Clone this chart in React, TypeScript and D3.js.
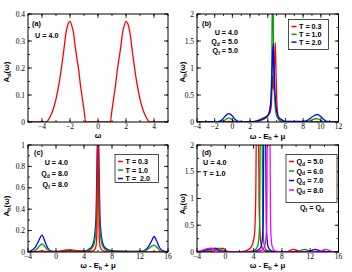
import * as d3 from "d3";

type Pt = [number, number];

// (a) A_d(ω), U = 4.0
const adCurve: Pt[] = [
  [-5, 0], [-3.75, 0], [-3.6, 0.004], [-3.5, 0.012], [-3.25, 0.04], [-3.0, 0.085],
  [-2.75, 0.152], [-2.5, 0.243], [-2.25, 0.34], [-2.125, 0.365], [-2.0, 0.373],
  [-1.875, 0.357], [-1.75, 0.33], [-1.625, 0.277], [-1.5, 0.235], [-1.375, 0.19],
  [-1.25, 0.135], [-1.125, 0.09], [-1.0, 0.045], [-0.875, 0], [0.875, 0],
  [1.0, 0.045], [1.125, 0.09], [1.25, 0.135], [1.375, 0.19], [1.5, 0.235],
  [1.625, 0.277], [1.75, 0.33], [1.875, 0.357], [2.0, 0.373], [2.125, 0.365],
  [2.25, 0.34], [2.5, 0.243], [2.75, 0.152], [3.0, 0.085], [3.25, 0.04],
  [3.5, 0.012], [3.6, 0.004], [3.75, 0], [5, 0],
];

// (b) A_h, U = 4, Qd = Qf = 5
const bT03: Pt[] = [
  [-4, 0], [-1, 0], [-0.4, 0.01], [0.2, 0], [2.3, 0], [2.8, 0.02], [3.3, 0.06],
  [3.8, 0.1], [4.2, 0.15], [4.4, 0.3], [4.55, 0.85], [4.65, 0.6], [4.75, 1.0],
  [4.85, 1.47], [4.95, 0.8], [5.05, 0.3], [5.2, 0.08], [5.5, 0.01], [6, 0],
  [9, 0], [9.6, 0.008], [10.2, 0], [12, 0],
];
const bT10: Pt[] = [
  [-4, 0], [-1.5, 0], [-1, 0.02], [-0.7, 0.05], [-0.4, 0.078], [-0.1, 0.05],
  [0.3, 0.01], [1, 0], [2.5, 0.005], [3, 0.02], [3.5, 0.05], [4.0, 0.1],
  [4.3, 0.3], [4.45, 1.0], [4.52, 2.3], [4.6, 2.3], [4.68, 0.9], [4.8, 0.4],
  [4.95, 0.15], [5.2, 0.05], [5.6, 0.01], [6, 0], [8.5, 0.01], [9, 0.04],
  [9.4, 0.06], [9.7, 0.058], [10.1, 0.02], [10.5, 0], [12, 0],
];
const bT20: Pt[] = [
  [-4, 0], [-2, 0], [-1.5, 0.01], [-1.1, 0.05], [-0.8, 0.11], [-0.4, 0.155],
  [0, 0.11], [0.3, 0.05], [0.7, 0.01], [1.5, 0], [2.5, 0.01], [3, 0.03],
  [3.5, 0.06], [3.9, 0.1], [4.2, 0.2], [4.4, 0.5], [4.5, 1.0], [4.6, 1.45],
  [4.7, 1.0], [4.8, 0.6], [4.9, 0.35], [5.0, 0.2], [5.2, 0.1], [5.6, 0.04],
  [6, 0.01], [8, 0.01], [8.5, 0.03], [8.9, 0.08], [9.3, 0.12], [9.6, 0.14],
  [10, 0.1], [10.3, 0.05], [10.7, 0.01], [11.5, 0], [12, 0],
];

// (c) A_h, U = 4, Qd = Qf = 8
const cT03: Pt[] = [
  [-4, 0], [-2.5, 0.005], [-2, 0.01], [-1.5, 0.005], [0, 0], [0.8, 0.01],
  [1.5, 0.02], [2.2, 0.02], [3, 0.01], [4, 0.003], [5.3, 0.01], [5.7, 0.05],
  [5.85, 0.2], [5.95, 1.1], [6.05, 1.1], [6.15, 0.2], [6.3, 0.05], [6.7, 0.01],
  [7.5, 0], [16, 0],
];
const cT10: Pt[] = [
  [-4, 0], [-3.2, 0.005], [-2.7, 0.03], [-2.3, 0.06], [-2, 0.075], [-1.6, 0.05],
  [-1.2, 0.02], [-0.7, 0.003], [0, 0], [1, 0.005], [2, 0.01], [3, 0.005],
  [4.5, 0.01], [5.3, 0.05], [5.7, 0.2], [5.9, 0.7], [5.97, 1.1], [6.03, 1.1],
  [6.1, 0.7], [6.3, 0.2], [6.7, 0.05], [7.5, 0.01], [12.5, 0.005], [13.2, 0.03],
  [13.7, 0.055], [14, 0.065], [14.4, 0.045], [14.8, 0.015], [15.3, 0], [16, 0],
];
const cT20: Pt[] = [
  [-4, 0], [-3.6, 0.01], [-3, 0.04], [-2.5, 0.1], [-2, 0.158], [-1.6, 0.1],
  [-1.2, 0.04], [-0.7, 0.01], [0, 0.005], [1, 0.01], [2, 0.015], [3, 0.01],
  [4, 0.01], [5, 0.04], [5.4, 0.1], [5.7, 0.3], [5.85, 0.8], [5.95, 1.1],
  [6.05, 1.1], [6.15, 0.8], [6.3, 0.3], [6.6, 0.1], [7, 0.04], [8, 0.01],
  [12, 0.005], [12.8, 0.02], [13.3, 0.06], [13.7, 0.11], [14, 0.145],
  [14.4, 0.1], [14.8, 0.04], [15.3, 0.01], [16, 0],
];

// (d) A_h, U = 4, T = 1, Qf = Qd
const dQ5: Pt[] = [
  [-4, 0], [-2, 0.01], [-1.2, 0.04], [-0.7, 0.065], [-0.3, 0.065], [0, 0.03],
  [0.5, 0.005], [1.5, 0], [2.5, 0.01], [3.2, 0.04], [3.7, 0.1], [4.1, 0.3],
  [4.3, 1.0], [4.4, 2.3], [4.7, 2.3], [4.78, 0.85], [4.9, 0.4], [5.05, 0.15],
  [5.4, 0.04], [6, 0.01], [8.5, 0], [9.2, 0.03], [9.7, 0.05], [10.2, 0.03],
  [10.8, 0], [16, 0],
];
const dQ6: Pt[] = [
  [-4, 0], [-3, 0.01], [-2.2, 0.04], [-1.6, 0.065], [-0.9, 0.065], [-0.4, 0.03],
  [0.3, 0.005], [2, 0], [3.5, 0.01], [4.2, 0.04], [4.6, 0.12], [4.85, 0.5],
  [4.95, 2.3], [5.2, 2.3], [5.3, 0.5], [5.55, 0.1], [6, 0.02], [7, 0],
  [10.3, 0.01], [10.8, 0.035], [11.2, 0.048], [11.7, 0.03], [12.3, 0], [16, 0],
];
const dQ7: Pt[] = [
  [-4, 0], [-3.5, 0.01], [-2.7, 0.04], [-2.1, 0.06], [-1.4, 0.065], [-0.9, 0.03],
  [-0.2, 0.005], [2.5, 0], [4, 0.01], [4.7, 0.04], [5.1, 0.12], [5.35, 0.5],
  [5.45, 2.3], [5.7, 2.3], [5.8, 0.5], [6.05, 0.1], [6.5, 0.02], [7.5, 0],
  [11.8, 0.01], [12.3, 0.035], [12.7, 0.048], [13.2, 0.03], [13.8, 0], [16, 0],
];
const dQ8: Pt[] = [
  [-4, 0], [-3.7, 0.015], [-3.1, 0.04], [-2.5, 0.065], [-1.9, 0.07], [-1.3, 0.035],
  [-0.7, 0.005], [3, 0], [4.5, 0.01], [5.2, 0.04], [5.6, 0.12], [5.85, 0.5],
  [5.95, 2.3], [6.3, 2.3], [6.4, 0.5], [6.6, 0.12], [7, 0.02], [8, 0],
  [13.3, 0.01], [13.8, 0.035], [14.2, 0.048], [14.7, 0.03], [15.3, 0], [16, 0],
];

// tick values per panel
const aXTicks = [-4, -2, 0, 2, 4];
const aYTicks = [0, 0.1, 0.2, 0.3, 0.4];
const bXTicks = [-4, -2, 0, 2, 4, 6, 8, 10, 12];
const bYTicks = [0, 0.5, 1, 1.5, 2];
const cXTicks = [-4, 0, 4, 8, 12, 16];
const cYTicks = [0, 0.2, 0.4, 0.6, 0.8, 1];
const dXTicks = [-4, 0, 4, 8, 12, 16];
const dYTicks = [0, 0.5, 1, 1.5, 2];

const bLegend = ["T = 0.3", "T = 1.0", "T = 2.0"];
const cLegend = ["T = 0.3", "T = 1.0", "T =  2.0"];
const dLegend = ["5.0", "6.0", "7.0", "8.0"];

const RED = "#ff0000";
const GREEN = "#00a000";
const BLUE = "#0000ff";
const MAGENTA = "#ff00ff";

const serif = "'Liberation Serif', 'DejaVu Serif', serif";
const sans = "'Liberation Sans', Arial, sans-serif";

type Box = { left: number; right: number; top: number; bottom: number };

type PanelProps = {
  id: string;
  box: Box;
  xDomain: [number, number];
  yDomain: [number, number];
  xTicks: number[];
  xMinorStep: number;
  yTicks: number[];
  yMinorStep: number;
  series: { data: Pt[]; color: string }[];
};

function Panel({ id, box, xDomain, yDomain, xTicks, xMinorStep, yTicks, yMinorStep, series }: PanelProps) {
  const x = d3.scaleLinear().domain(xDomain).range([box.left, box.right]);
  const y = d3.scaleLinear().domain(yDomain).range([box.bottom, box.top]);
  const line = d3
    .line<Pt>()
    .x((d) => x(d[0]))
    .y((d) => y(d[1]))
    .curve(d3.curveMonotoneX);
  const eps = 1e-9;
  const xMin = d3.range(xDomain[0], xDomain[1] + eps, xMinorStep);
  const yMin = d3.range(yDomain[0], yDomain[1] + eps, yMinorStep);
  const fmt = (v: number) => d3.format("~g")(+v.toFixed(6));
  const maj = 4;
  const mnr = 2;
  return (
    <g>
      <defs>
        <clipPath id={id}>
          <rect x={box.left} y={box.top} width={box.right - box.left} height={box.bottom - box.top} />
        </clipPath>
      </defs>
      <g clipPath={`url(#${id})`} fill="none" strokeWidth={1.3}>
        {series.map((s, i) => (
          <path key={i} d={line(s.data) ?? ""} stroke={s.color} />
        ))}
      </g>
      <g stroke="#000" strokeWidth={0.8}>
        {xMin.map((v, i) => (
          <g key={"xm" + i}>
            <line x1={x(v)} x2={x(v)} y1={box.bottom} y2={box.bottom - mnr} />
            <line x1={x(v)} x2={x(v)} y1={box.top} y2={box.top + mnr} />
          </g>
        ))}
        {xTicks.map((v, i) => (
          <g key={"xM" + i}>
            <line x1={x(v)} x2={x(v)} y1={box.bottom} y2={box.bottom - maj} />
            <line x1={x(v)} x2={x(v)} y1={box.top} y2={box.top + maj} />
          </g>
        ))}
        {yMin.map((v, i) => (
          <g key={"ym" + i}>
            <line x1={box.left} x2={box.left + mnr} y1={y(v)} y2={y(v)} />
            <line x1={box.right} x2={box.right - mnr} y1={y(v)} y2={y(v)} />
          </g>
        ))}
        {yTicks.map((v, i) => (
          <g key={"yM" + i}>
            <line x1={box.left} x2={box.left + maj} y1={y(v)} y2={y(v)} />
            <line x1={box.right} x2={box.right - maj} y1={y(v)} y2={y(v)} />
          </g>
        ))}
        <rect
          x={box.left}
          y={box.top}
          width={box.right - box.left}
          height={box.bottom - box.top}
          fill="none"
          strokeWidth={1}
        />
      </g>
      <g fontFamily={serif} fontSize={7.5} fill="#000">
        {xTicks.map((v, i) => (
          <text key={"xl" + i} x={x(v)} y={box.bottom + 7} textAnchor="middle">
            {fmt(v).replace("-", "\u2212")}
          </text>
        ))}
        {yTicks.map((v, i) => (
          <text key={"yl" + i} x={box.left - 3} y={y(v) + 2.6} textAnchor="end">
            {fmt(v)}
          </text>
        ))}
      </g>
    </g>
  );
}

function Legend({ x0, y0, w, h, rows, colors, rowH }: { x0: number; y0: number; w: number; h: number; rows: React.ReactNode[]; colors: string[]; rowH: number }) {
  return (
    <g>
      <rect x={x0} y={y0} width={w} height={h} fill="#fff" stroke="#000" strokeWidth={0.7} />
      {rows.map((r, i) => (
        <g key={i}>
          <line x1={x0 + 3} x2={x0 + 8} y1={y0 + 7 + i * rowH} y2={y0 + 7 + i * rowH} stroke={colors[i]} strokeWidth={1.5} />
          <text x={x0 + 10.5} y={y0 + 9.5 + i * rowH} fontFamily={sans} fontWeight="bold" fontSize={7.2} style={{ whiteSpace: "pre" }}>
            {r}
          </text>
        </g>
      ))}
    </g>
  );
}

const sub = (main: string, s: string, rest = "") => (
  <>
    {main}
    <tspan dy={1.8} fontSize="0.7em">{s}</tspan>
    <tspan dy={-1.8}>{rest}</tspan>
  </>
);

export default function App() {
  const boxA: Box = { left: 28, right: 168, top: 14, bottom: 122 };
  const boxB: Box = { left: 197, right: 338.5, top: 14, bottom: 122 };
  const boxC: Box = { left: 28, right: 168, top: 145, bottom: 252 };
  const boxD: Box = { left: 197, right: 338.5, top: 145, bottom: 252 };
  const ann = { fontFamily: sans, fontWeight: "bold" as const, fontSize: 7.2 };
  const axl = { fontFamily: sans, fontWeight: "bold" as const, fontSize: 7.8 };
  const xLabel = (
    <>
      ω - E<tspan dy={1.8} fontSize="0.7em">h</tspan>
      <tspan dy={-1.8}> + μ</tspan>
    </>
  );
  return (
    <svg width={352} height={272} viewBox="0 0 352 272" style={{ position: "absolute", left: 0, top: 0, background: "#fff" }}>
      <rect width={352} height={272} fill="#fff" />
      <Panel id="ca" box={boxA} xDomain={[-5, 5]} yDomain={[0, 0.4]} xTicks={aXTicks} xMinorStep={1} yTicks={aYTicks} yMinorStep={0.05}
        series={[{ data: adCurve, color: RED }]} />
      <Panel id="cb" box={boxB} xDomain={[-4, 12]} yDomain={[0, 2]} xTicks={bXTicks} xMinorStep={1} yTicks={bYTicks} yMinorStep={0.25}
        series={[{ data: bT03, color: RED }, { data: bT10, color: GREEN }, { data: bT20, color: BLUE }]} />
      <Panel id="cc" box={boxC} xDomain={[-4, 16]} yDomain={[0, 1]} xTicks={cXTicks} xMinorStep={2} yTicks={cYTicks} yMinorStep={0.1}
        series={[{ data: cT20, color: BLUE }, { data: cT10, color: GREEN }, { data: cT03, color: RED }]} />
      <Panel id="cd" box={boxD} xDomain={[-4, 16]} yDomain={[0, 2]} xTicks={dXTicks} xMinorStep={2} yTicks={dYTicks} yMinorStep={0.25}
        series={[{ data: dQ5, color: RED }, { data: dQ6, color: GREEN }, { data: dQ7, color: BLUE }, { data: dQ8, color: MAGENTA }]} />

      {/* annotations */}
      <g {...ann}>
        <text x={32} y={26}>(a)</text>
        <text x={35} y={37.5}>U = 4.0</text>

        <text x={202} y={26}>(b)</text>
        <text x={238} y={35} textAnchor="end">U = 4.0</text>
        <text x={238} y={44} textAnchor="end">{sub("Q", "d", " = 5.0")}</text>
        <text x={238} y={53} textAnchor="end">{sub("Q", "f", " = 5.0")}</text>

        <text x={34} y={155}>(c)</text>
        <text x={68} y={165} textAnchor="end">U = 4.0</text>
        <text x={68} y={176} textAnchor="end">{sub("Q", "d", " = 8.0")}</text>
        <text x={68} y={187} textAnchor="end">{sub("Q", "f", " = 8.0")}</text>

        <text x={202} y={155}>(d)</text>
        <text x={203} y={165}>U = 4.0</text>
        <text x={203} y={176}>T = 1.0</text>
        <text x={300} y={210}>
          {sub("Q", "f", " = Q")}
          <tspan dy={1.8} fontSize="0.7em">d</tspan>
        </text>
      </g>

      <Legend x0={288.5} y0={19.5} w={40} h={30} rows={bLegend} colors={[RED, GREEN, BLUE]} rowH={7.8} />
      <Legend x0={115} y0={154.5} w={43.5} h={28} rows={cLegend} colors={[RED, GREEN, BLUE]} rowH={8.5} />
      <Legend x0={286} y0={154.5} w={51} h={48} rows={dLegend.map((v) => sub("Q", "d", " = " + v))}
        colors={[RED, GREEN, BLUE, MAGENTA]} rowH={9.5} />

      {/* axis labels */}
      <g {...axl}>
        <text x={98} y={138} textAnchor="middle">ω</text>
        <text x={267.5} y={138.5} textAnchor="middle">{xLabel}</text>
        <text x={98} y={268} textAnchor="middle">{xLabel}</text>
        <text x={267.5} y={268} textAnchor="middle">{xLabel}</text>
        <text transform="translate(9,72) rotate(-90)" textAnchor="middle">{sub("A", "d", "(ω)")}</text>
        <text transform="translate(185,72) rotate(-90)" textAnchor="middle">{sub("A", "h", "(ω)")}</text>
        <text transform="translate(9,206) rotate(-90)" textAnchor="middle">{sub("A", "h", "(ω)")}</text>
        <text transform="translate(185,204) rotate(-90)" textAnchor="middle">{sub("A", "h", "(ω)")}</text>
      </g>
    </svg>
  );
}
